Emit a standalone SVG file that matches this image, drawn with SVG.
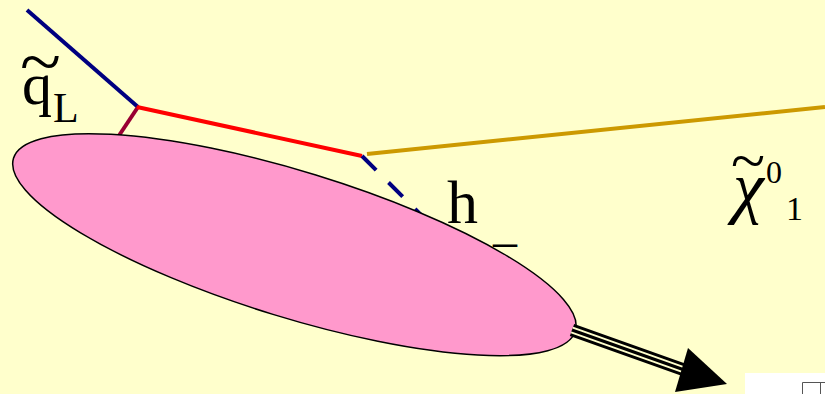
<svg xmlns="http://www.w3.org/2000/svg" width="825" height="394" viewBox="0 0 825 394">
  <style>
    .t { font-family: "Liberation Serif", "Times New Roman", serif; fill: #000; }
    .ln { fill: none; stroke-width: 4; stroke-linecap: butt; }
  </style>
  <rect width="825" height="394" fill="#FFFFCC"/>

  <g id="connectors">
    <line class="ln" x1="27" y1="10" x2="138" y2="107" stroke="#000080"/>
    <line class="ln" x1="138" y1="107" x2="118" y2="137" stroke="#990033"/>
    <line class="ln" x1="137" y1="107" x2="362" y2="156" stroke="#FF0000"/>
    <line class="ln" x1="367" y1="154" x2="825" y2="107" stroke="#CC9900"/>
    <line class="ln" x1="362" y1="156" x2="440" y2="234" stroke="#000080" stroke-dasharray="20 17.5"/>
  </g>

  <g id="blob">
    <ellipse cx="294.4" cy="244.7" rx="293.9" ry="72.9" transform="rotate(17.1 294.4 244.7)" fill="#FF99CC" stroke="#000" stroke-width="1.5"/>
  </g>

  <g id="jet">
    <line x1="572" y1="330" x2="690" y2="372" stroke="#000" stroke-width="13"/>
    <line x1="572" y1="330" x2="690" y2="372" stroke="#FFFFCC" stroke-width="7"/>
    <line x1="572" y1="330" x2="690" y2="372" stroke="#000" stroke-width="3"/>
    <path d="M688,348 L727,384 L675,392 Z" fill="#000"/>
  </g>

  <g id="label-q">
    <text class="t" font-size="70" transform="translate(20 85) scale(1.08 1)">~</text>
    <text class="t" x="22" y="104" font-size="60">q</text>
    <text class="t" x="53" y="122" font-size="42">L</text>
  </g>

  <g id="label-h">
    <text class="t" x="447" y="223" font-size="62">h</text>
    <text class="t" x="493" y="257" font-size="48">–</text>
  </g>

  <g id="label-chi">
    <text class="t" font-size="60" transform="translate(731 181) scale(1.05 1)">~</text>
    <text class="t" x="733" y="210" font-size="70" font-style="italic">χ</text>
    <text class="t" x="766" y="183" font-size="32">0</text>
    <text class="t" x="786" y="220" font-size="34">1</text>
  </g>

  <g id="corner">
    <rect x="745" y="373" width="80" height="21" fill="#FFFFFF"/>
    <path d="M802.5,394 V382.5 H825 M820.5,383 V394" fill="none" stroke="#555" stroke-width="1"/>
  </g>
</svg>
